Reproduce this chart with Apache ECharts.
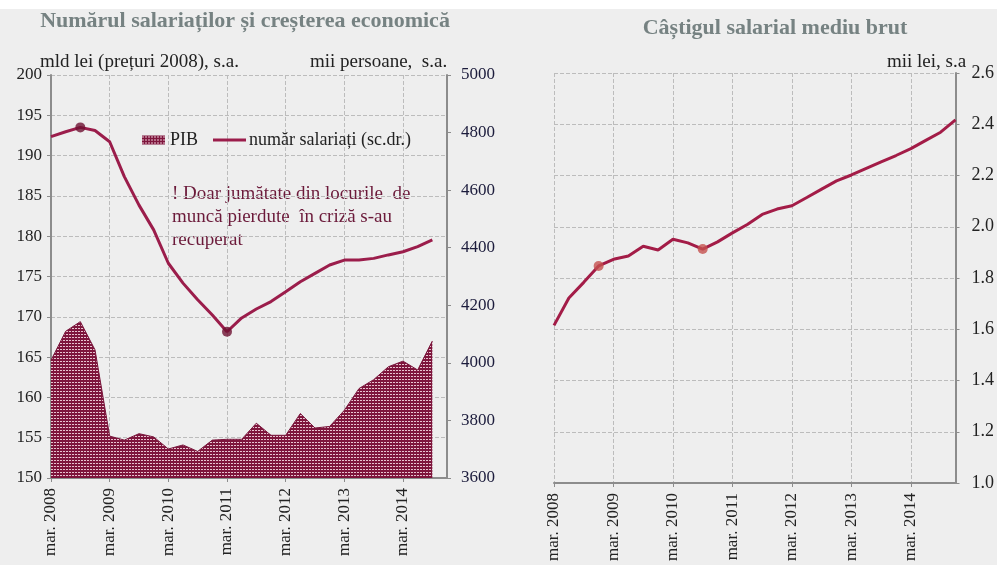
<!DOCTYPE html>
<html>
<head>
<meta charset="utf-8">
<script src="https://cdn.jsdelivr.net/npm/echarts@6/dist/echarts.min.js"></script>
<style>
html,body{margin:0;padding:0;background:#eeeeee}
#main{width:997px;height:565px}
</style>
</head>
<body>
<div id="main"></div>
<script>
// trimestrial, mar. 2008 - dec. 2014
var categories = [
	'mar. 2008','iun. 2008','sep. 2008','dec. 2008',
	'mar. 2009','iun. 2009','sep. 2009','dec. 2009',
	'mar. 2010','iun. 2010','sep. 2010','dec. 2010',
	'mar. 2011','iun. 2011','sep. 2011','dec. 2011',
	'mar. 2012','iun. 2012','sep. 2012','dec. 2012',
	'mar. 2013','iun. 2013','sep. 2013','dec. 2013',
	'mar. 2014','iun. 2014','sep. 2014','dec. 2014'
];
// PIB, mld lei (preturi 2008), s.a.
var pib = [164.6,168.2,169.4,165.9,155.2,154.7,155.5,155.1,153.6,154.1,153.3,154.7,154.8,154.8,
	156.8,155.3,155.3,158.0,156.2,156.4,158.4,161.1,162.2,163.8,164.5,163.4,167.0];
// numar salariati, mii persoane, s.a.
var salariati = [4786,4803,4818,4807,4768,4647,4548,4462,4346,4277,4219,4166,4108,4156,
	4187,4213,4247,4282,4311,4340,4357,4357,4363,4375,4386,4404,4427];
// castigul salarial mediu brut, mii lei, s.a
var castig = [1.615,1.722,1.783,1.847,1.873,1.886,1.924,1.909,1.951,1.937,1.913,1.941,1.976,2.009,
	2.048,2.069,2.082,2.114,2.147,2.179,2.202,2.228,2.253,2.278,2.305,2.337,2.369,2.417];
var salariatiMarks = [2,12];
var castigMarks = [3,10];

var serif = '"Liberation Serif","DejaVu Serif",serif';

// textura pentru aria PIB
var pc = document.createElement('canvas');
pc.width = 3; pc.height = 3;
var pctx = pc.getContext('2d');
pctx.fillStyle = '#7e153c';
pctx.fillRect(0,0,3,3);
pctx.fillStyle = '#e8c3d0';
pctx.fillRect(0,1,2,1);
var pattern = {image: pc, repeat: 'repeat'};

function xAx(grid) {
	return {
		gridIndex: grid,
		type: 'category',
		data: categories,
		boundaryGap: false,
		axisLine: {lineStyle: {color: '#8c8c8c', width: 2}},
		axisTick: {interval: 3, length: 4, lineStyle: {color: '#8c8c8c'}},
		axisLabel: {interval: 3, rotate: 90, fontFamily: serif, fontSize: 17, color: '#222', margin: 10},
		splitLine: {show: true, interval: 3, lineStyle: {type: 'dashed', color: '#bcbcbc'}}
	};
}

var dom = document.getElementById('main');
var myChart = echarts.init(dom);

var option = {
	backgroundColor: '#eeeeee',
	animation: false,
	grid: [
		{left: 51, right: 550, top: 75, bottom: 87},
		{left: 554, right: 38, top: 73, bottom: 82}
	],
	legend: [
		{
			data: [{name: 'PIB', icon: 'rect', itemStyle: {color: pattern}}],
			left: 137, top: 126, itemWidth: 23, itemHeight: 9, itemGap: 4,
			textStyle: {fontFamily: serif, fontSize: 18, color: '#222'}
		},
		{
			data: [{name: 'număr salariați (sc.dr.)', icon: 'rect'}],
			left: 208, top: 126, itemWidth: 33, itemHeight: 3,
			textStyle: {fontFamily: serif, fontSize: 18, color: '#222', padding: [0, 0, 0, -2]}
		}
	],
	xAxis: [xAx(0), xAx(1)],
	yAxis: [
		{
			gridIndex: 0, type: 'value', min: 150, max: 200, interval: 5, position: 'left',
			axisLine: {show: true, lineStyle: {color: '#8c8c8c', width: 2}},
			axisTick: {show: true, length: 4, lineStyle: {color: '#8c8c8c'}},
			axisLabel: {fontFamily: serif, fontSize: 17, color: '#222', margin: 9},
			splitLine: {lineStyle: {type: 'dashed', color: '#bcbcbc'}}
		},
		{
			gridIndex: 0, type: 'value', min: 3600, max: 5000, interval: 200, position: 'right',
			axisLine: {show: true, lineStyle: {color: '#8c8c8c', width: 2}},
			axisTick: {show: true, length: 4, lineStyle: {color: '#8c8c8c'}},
			axisLabel: {fontFamily: serif, fontSize: 17, color: '#1c1c3c', margin: 14,
				formatter: function (v) { return String(v); }},
			splitLine: {show: false}
		},
		{
			gridIndex: 1, type: 'value', min: 1.0, max: 2.6, interval: 0.2, position: 'right',
			axisLine: {show: true, lineStyle: {color: '#8c8c8c', width: 2}},
			axisTick: {show: true, length: 4, lineStyle: {color: '#8c8c8c'}},
			axisLabel: {fontFamily: serif, fontSize: 18, color: '#222', margin: 16,
				formatter: function (v) { return v.toFixed(1); }},
			splitLine: {lineStyle: {type: 'dashed', color: '#bcbcbc'}}
		}
	],
	series: [
		{
			name: 'PIB', type: 'line', xAxisIndex: 0, yAxisIndex: 0, data: pib,
			symbol: 'none', z: 1,
			lineStyle: {width: 1, color: '#7a163c'},
			itemStyle: {color: '#82173f'},
			areaStyle: {color: pattern, opacity: 1, origin: 'start'}
		},
		{
			name: 'număr salariați (sc.dr.)', type: 'line', xAxisIndex: 0, yAxisIndex: 1, data: salariati,
			symbol: 'none', z: 3,
			lineStyle: {width: 3, color: '#9b1d4b'},
			itemStyle: {color: '#9b1d4b'}
		},
		{
			type: 'scatter', xAxisIndex: 0, yAxisIndex: 1, z: 4,
			data: salariatiMarks.map(function (i) { return [i, salariati[i]]; }),
			symbolSize: 10, itemStyle: {color: '#6e1232'}
		},
		{
			type: 'line', xAxisIndex: 1, yAxisIndex: 2, data: castig,
			symbol: 'none', z: 3,
			lineStyle: {width: 3, color: '#a31c47'}
		},
		{
			type: 'scatter', xAxisIndex: 1, yAxisIndex: 2, z: 4,
			data: castigMarks.map(function (i) { return [i, castig[i]]; }),
			symbolSize: 10, itemStyle: {color: '#c4504e'}
		}
	],
	graphic: [
		{type: 'rect', left: 0, top: 0, shape: {width: 997, height: 9}, style: {fill: '#ffffff'}, silent: true},
		{type: 'text', x: 245, y: 21, style: {text: 'Numărul salariaților și creșterea economică',
			font: 'bold 22px ' + serif, fill: '#768282', textAlign: 'center', textVerticalAlign: 'middle'}},
		{type: 'text', x: 775, y: 28, style: {text: 'Câștigul salarial mediu brut',
			font: 'bold 22px ' + serif, fill: '#768282', textAlign: 'center', textVerticalAlign: 'middle'}},
		{type: 'text', x: 40, y: 62, style: {text: 'mld lei (prețuri 2008), s.a.',
			font: '19px ' + serif, fill: '#222', textVerticalAlign: 'middle'}},
		{type: 'text', x: 310, y: 62, style: {text: 'mii persoane,  s.a.',
			font: '19px ' + serif, fill: '#222', textVerticalAlign: 'middle'}},
		{type: 'text', x: 887, y: 62, style: {text: 'mii lei, s.a',
			font: '19px ' + serif, fill: '#222', textVerticalAlign: 'middle'}},
		{type: 'text', x: 172, y: 183, style: {text: '! Doar jumătate din locurile  de\nmuncă pierdute  în criză s-au\nrecuperat',
			font: '19px ' + serif, fill: '#6b1a3a', lineHeight: 23}}
	]
};

if (option && typeof option === "object") {
	myChart.setOption(option, true);
}
</script>
</body>
</html>
